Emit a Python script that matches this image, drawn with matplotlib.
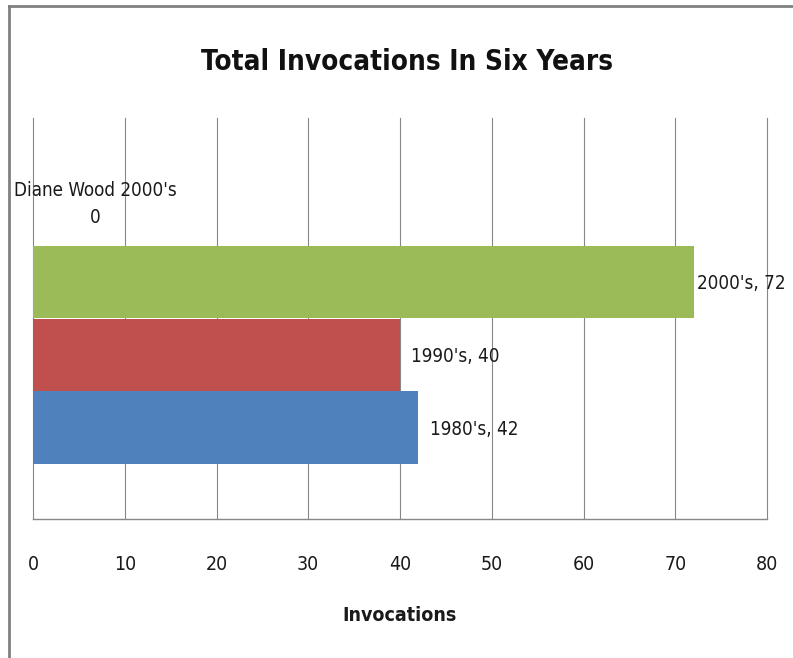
import matplotlib
matplotlib.use("Agg")
import matplotlib.pyplot as plt
from matplotlib import font_manager as fm
from matplotlib.lines import Line2D

# pick a narrow font if one is around, else Liberation Sans
names = {f.name for f in fm.fontManager.ttflist}
condensed = [f for f in fm.fontManager.ttflist
             if f.stretch in ('condensed', 'semi-condensed', 'extra-condensed')
             or 'Narrow' in f.name or 'Condensed' in f.name]
base = 'Liberation Sans'
stretch = 'normal'
if 'Liberation Sans Narrow' in names:
    base = 'Liberation Sans Narrow'
elif condensed:
    base = condensed[0].name
    stretch = 'condensed'
plt.rcParams['font.family'] = [base, 'DejaVu Sans']
plt.rcParams['font.stretch'] = stretch
k = 1.0 if base != 'Liberation Sans' else 0.9

# chart data
series = ["1980's", "1990's", "2000's", "Diane Wood 2000's"]
values = [42, 40, 72, 0]
colors = ['#4F81BD', '#C0504D', '#9BBB59', '#8064A2']
x_ticks = [0, 10, 20, 30, 40, 50, 60, 70, 80]

label_pad = [1.3, 1.2, 0.35]  # gap between bar end and its label (x units)

fig = plt.figure(figsize=(7.93, 6.58), dpi=100)
ax = fig.add_axes([33 / 793, 1 - 519 / 658, (767 - 33) / 793, (519 - 118) / 658])

ypos = list(range(len(series)))
ax.barh(ypos, values, height=1.0, color=colors, zorder=3)

ax.set_xlim(0, 80)
ax.set_ylim(-1.25, 4.25)
ax.set_xticks(x_ticks)
ax.set_yticks([])
ax.xaxis.grid(True, color='#878787', linewidth=0.8, zorder=0)
for gl in ax.get_xgridlines():
    gl.set_clip_on(False)  # keep the edge lines (0 and 80) whole
ax.tick_params(axis='x', length=0, pad=26, labelsize=14 * k, labelcolor='#1a1a1a')

for side in ['top', 'right', 'left']:
    ax.spines[side].set_visible(False)
ax.spines['bottom'].set_color('#878787')
ax.spines['bottom'].set_linewidth(1.0)

# data labels
for y, name, v, p in zip(ypos, series, values, label_pad):
    ax.text(v + p, y - 0.02, f"{name}, {v}", ha='left', va='center',
            fontsize=13.5 * k, color='#1a1a1a', zorder=4)
ax.text(6.75, 3.07, f"{series[3]}\n{values[3]}", ha='center', va='center',
        fontsize=13.5 * k, color='#1a1a1a', linespacing=1.5, zorder=4)

ax.set_xlabel('Invocations', fontsize=14 * k, fontweight='bold', labelpad=23, color='#1a1a1a')
fig.text(407 / 793, 1 - 62 / 658, 'Total Invocations In Six Years', ha='center', va='center',
         fontsize=20 * k, fontweight='bold', color='#111111')

# outer chart frame
fig.add_artist(Line2D([9 / 793, 9 / 793], [0, 1 - 6 / 658], transform=fig.transFigure,
                      color='#808080', linewidth=2))
fig.add_artist(Line2D([9 / 793, 1], [1 - 6 / 658, 1 - 6 / 658], transform=fig.transFigure,
                      color='#808080', linewidth=2))

fig.savefig('out.png', dpi=100)
